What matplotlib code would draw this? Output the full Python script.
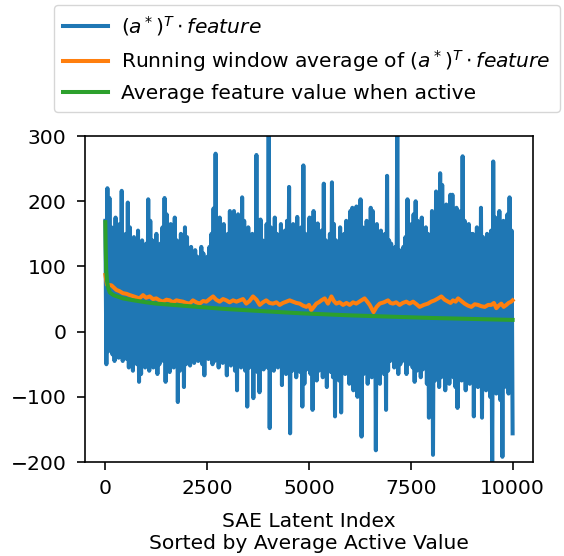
import numpy as np
import matplotlib
matplotlib.use("Agg")
import matplotlib.pyplot as plt

# projection of each SAE latent onto a*, sampled along the sorted latent index
proj_vals = [
    170, -50, 220, -30, 205, -20, 160, -35, 150, -45, 175, -25, 140, -40, 165, -30, 216, -45, 130, -38,
    150, -42, 198, -55, 160, -48, 120, -60, 145, -35, 135, -50, 155, -77, 130, -65, 140, -40, 125, -55,
    135, -45, 203, -60, 170, -38, 140, -55, 125, -42, 150, -65, 120, -50, 135, -30, 160, -45, 205, -77,
    180, -50, 150, -62, 165, -40, 130, -55, 175, -48, 140, -108, 125, -60, 150, -45, 135, -85, 160, -50,
    145, -40, 120, -52, 130, -35, 110, -48, 125, -30, 115, -45, 105, -38, 130, -50, 120, -67, 112, -40,
    115, -42, 130, -35, 150, -50, 189, -45, 273, -38, 160, -55, 175, -40, 140, -48, 165, -35, 130, -67,
    150, -45, 185, -52, 140, -38, 185, -60, 165, -90, 180, -48, 150, -55, 206, -42, 170, -60, 145, -115,
    160, -55, 135, -48, 150, -102, 140, -50, 271, -62, 155, -93, 172, -45, 140, -58, 130, -40, 165, -55,
    330, -148, 160, -50, 145, -60, 175, -45, 150, -55, 140, -40, 165, -82, 135, -50, 155, -65, 170, -45,
    222, -156, 150, -60, 165, -48, 140, -70, 176, -55, 145, -62, 160, -115, 255, -80, 150, -58, 135, -50,
    175, -65, 150, -120, 185, -55, 140, -75, 166, -60, 130, -50, 155, -70, 227, -45, 140, -85, 125, -55,
    150, -62, 229, -70, 165, -130, 140, -58, 125, -75, 160, -124, 135, -50, 150, -65, 170, -55, 145, -80,
    185, -60, 190, -90, 175, -70, 192, -100, 180, -75, 203, -161, 160, -65, 145, -55, 170, -80, 155, -60,
    190, -70, 185, -55, 150, -182, 165, -60, 140, -80, 155, -50, 135, -65, 150, -120, 239, -60, 140, -45,
    135, -40, 120, -55, 130, -35, 330, -65, 125, -50, 115, -45, 130, -38, 145, -65, 203, -50, 135, -42,
    165, -55, 180, -77, 200, -60, 170, -45, 155, -70, 175, -58, 140, -50, 160, -80, 150, -132, 135, -65,
    185, -189, 170, -75, 215, -60, 190, -85, 243, -70, 225, -55, 180, -90, 195, -65, 170, -80, 210, -60,
    210, -70, 175, -85, 190, -117, 160, -65, 185, -75, 269, -60, 170, -90, 155, -70, 165, -80, 150, -62,
    150, -130, 140, -70, 160, -85, 135, -60, 190, -132, 145, -75, 130, -90, 150, -65, 140, -100, 155, -230,
    261, -80, 175, -95, 160, -70, 185, -105, 150, -192, 170, -85, 140, -75, 180, -95, 206, -80, 155, -156,
]
proj_idx = np.linspace(0, 9999, len(proj_vals))

# running window average of the projection
avg_idx = [0, 40, 150, 270, 350, 430, 520, 600, 700, 835, 925, 1000, 1090, 1170, 1250, 1330,
           1415, 1500, 1580, 1660, 1745, 1820, 1905, 1990, 2070, 2150, 2230, 2315, 2400, 2480,
           2560, 2645, 2720, 2805, 2890, 2970, 3050, 3135, 3220, 3300, 3380, 3460, 3540, 3625,
           3710, 3790, 3870, 3950, 4030, 4115, 4200, 4280, 4360, 4445, 4525, 4605, 4690, 4770,
           4850, 4935, 5000, 5055, 5120, 5180, 5240, 5305, 5385, 5465, 5550, 5610, 5670, 5750,
           5835, 5920, 6000, 6080, 6160, 6260, 6365, 6430, 6490, 6585, 6660, 6735, 6840, 6940,
           7000, 7060, 7140, 7225, 7300, 7390, 7470, 7555, 7640, 7715, 7820, 7920, 8000, 8085,
           8170, 8250, 8330, 8415, 8475, 8535, 8600, 8660, 8740, 8820, 8900, 8985, 9070, 9150,
           9230, 9315, 9400, 9475, 9540, 9600, 9660, 9720, 9780, 9845, 9900, 9965, 9999]
avg_vals = [87, 72, 71, 64, 62, 59, 58, 56, 54, 51, 56, 52, 54, 50, 51, 48,
            46, 49, 48, 45, 48, 47, 46, 44, 43, 48, 45, 43, 47, 46,
            50, 54, 49, 46, 50, 48, 45, 48, 46, 48, 50, 43, 47, 54,
            49, 41, 45, 48, 44, 43, 45, 41, 44, 46, 48, 46, 44, 43,
            40, 38, 41, 33, 38, 43, 45, 48, 51, 43, 54, 47, 43, 45,
            41, 44, 41, 45, 43, 47, 51, 46, 41, 30, 38, 43, 45, 48,
            44, 43, 45, 41, 44, 46, 43, 46, 42, 38, 41, 43, 46, 48,
            51, 54, 49, 46, 44, 48, 46, 51, 47, 43, 40, 38, 42, 41,
            39, 38, 41, 41, 44, 36, 40, 43, 38, 41, 44, 46, 48]

# mean activation of each latent when it fires (sorted, so decreasing)
act_idx = [0, 8, 20, 40, 70, 110, 200, 430, 700, 1000, 1250, 2070, 2890, 3700, 4850,
           6000, 7000, 8000, 9000, 9999]
act_vals = [168, 130, 95, 78, 67, 60, 56, 51, 48, 45, 43, 39, 35, 32, 28,
            25, 23, 21, 19.5, 18]

plt.rcParams.update({
    "font.size": 14.6,
    "lines.linewidth": 2.9,
    "axes.linewidth": 1.17,
    "xtick.major.size": 5.8,
    "ytick.major.size": 5.8,
    "xtick.major.width": 1.17,
    "ytick.major.width": 1.17,
    "xtick.major.pad": 6.5,
    "ytick.major.pad": 7.5,
    "axes.labelpad": 10,
})
fig = plt.figure(figsize=(5.64, 5.56), dpi=100)
ax = fig.add_axes([0.1507, 0.169, 0.7943, 0.5863])

l1, = ax.plot(proj_idx, proj_vals, color="tab:blue")
l2, = ax.plot(avg_idx, avg_vals, color="tab:orange")
l3, = ax.plot(act_idx, act_vals, color="tab:green")

ax.set_ylim(-200, 300)
ax.set_xticks([0, 2500, 5000, 7500, 10000])
ax.set_yticks([-200, -100, 0, 100, 200, 300])
ax.set_xlabel("SAE Latent Index\nSorted by Average Active Value")

fig.legend([l1, l2, l3],
           [r"$(a^*)^T \cdot feature$",
            r"Running window average of $(a^*)^T \cdot feature$",
            "Average feature value when active"],
           loc="upper left", bbox_to_anchor=(54 / 564, 1 - 5 / 556),
           borderaxespad=0, borderpad=0.45, labelspacing=0.5,
           handlelength=2.2, handletextpad=0.65)

fig.savefig("out.png", dpi=100)
